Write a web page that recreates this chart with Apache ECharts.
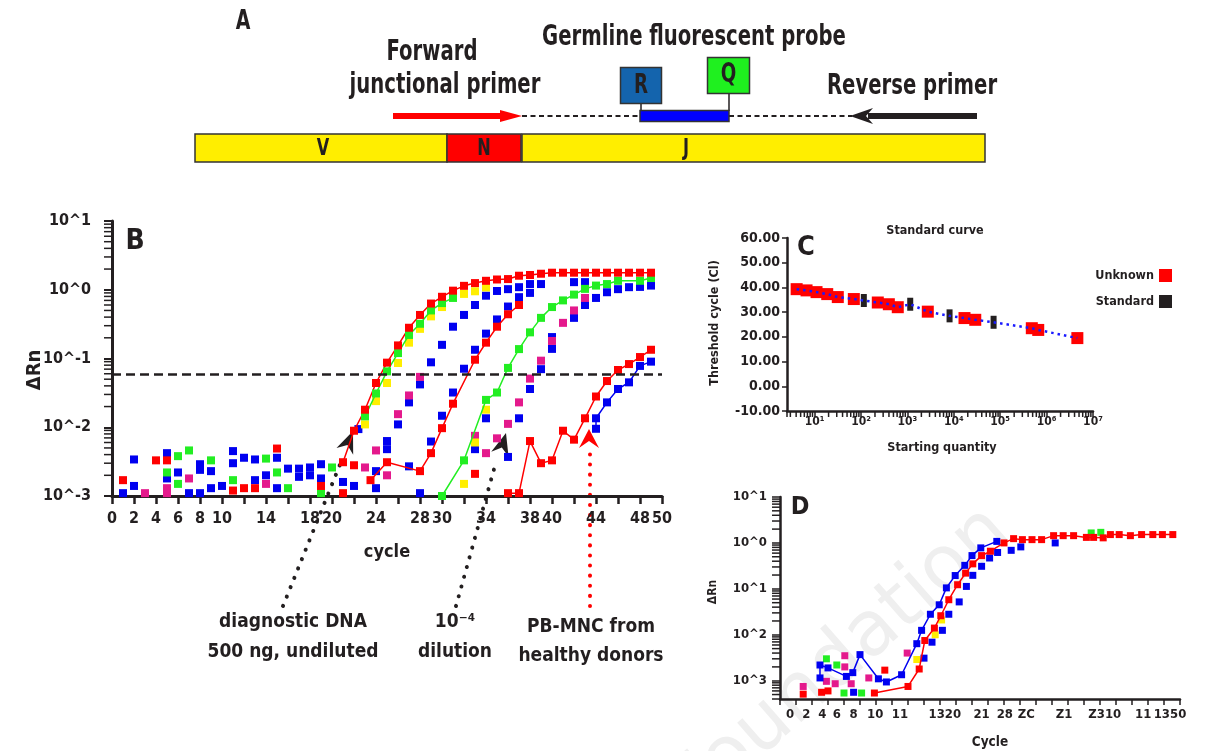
<!DOCTYPE html>
<html>
<head>
<meta charset="utf-8">
<title>Junctional qPCR</title>
<script src="https://cdn.jsdelivr.net/npm/echarts@6/dist/echarts.min.js"></script>
<style>
  html, body { margin: 0; padding: 0; background: #fff; }
  #chart { width: 1208px; height: 751px; }
</style>
</head>
<body>
<div id="chart"></div>
<script>
// ---------- panel B : amplification plot, [cycle, ΔRn] ----------
const bXLabels = [0, 2, 4, 6, 8, 10, 14, 18, 20, 24, 28, 30, 34, 38, 40, 44, 48, 50];
const bThreshold = 0.062;
const bRed1 = [[21,0.0031],[22,0.0089],[23,0.018],[24,0.044],[25,0.087],[26,0.155],[27,0.28],[28,0.43],[29,0.63],[30,0.79],[31,0.97],[32,1.14],[33,1.25],[34,1.35],[35,1.41],[36,1.43],[37,1.6],[38,1.64],[39,1.71],[40,1.77],[41,1.77],[42,1.77],[43,1.77],[44,1.77],[45,1.77],[46,1.77],[47,1.77],[48,1.77],[49,1.77]];
const bGreen1 = [[23,0.0144],[24,0.031],[25,0.065],[26,0.12],[27,0.22],[28,0.32],[29,0.5],[30,0.64],[31,0.76]];
const bRed2 = [[23.5,0.0017],[25,0.0031],[28,0.0023],[29,0.0042],[30,0.0097],[31,0.022],[33,0.096],[34,0.17],[35,0.29],[36,0.44],[37,0.6]];
const bGreen2 = [[30,0.001],[32,0.0033],[34,0.025],[35,0.032],[36,0.073],[37,0.137],[38,0.24],[39,0.39],[40,0.56],[41,0.7],[42,0.85],[43,1.03],[44,1.15],[45,1.21],[46,1.35],[48,1.35],[49,1.48]];
const bRed3 = [[36,0.0011],[37,0.0011],[38,0.0063],[39,0.003],[40,0.0033],[41,0.0089],[42,0.0066],[43,0.0135],[44,0.028],[45,0.047],[46,0.068],[47,0.083],[48,0.105],[49,0.134]];
const bBlue3 = [[44,0.0095],[44,0.0135],[45,0.023],[46,0.036],[47,0.045],[48,0.078],[49,0.09]];
const bYellow = [[23,0.011],[24,0.024],[25,0.044],[26,0.086],[27,0.17],[28,0.27],[29,0.41],[30,0.56],[32,0.87],[33,0.95],[34,1.08],[32,0.0015],[33,0.006],[34,0.018]];
const bBlue = [[1,0.00095],[1,0.0011],[2,0.0014],[2,0.0034],[5,0.0042],[5,0.0018],[6,0.0022],[7,0.0011],[8,0.0029],[8,0.0024],[8,0.0011],[9,0.0023],[9,0.0013],[10,0.0014],[11,0.0045],[11,0.003],[12,0.0036],[13,0.0034],[13,0.0017],[14,0.002],[15,0.0036],[15,0.0013],[16,0.0025],[17,0.0025],[17,0.0019],[18,0.0026],[18,0.002],[19,0.0029],[19,0.0018],[21,0.0016],[22,0.0014],
  [22.4,0.0094],[25,0.0063],[25,0.0048],[24,0.0023],[24,0.0013],[27,0.0027],[28,0.0011],[26,0.011],[27,0.023],[28,0.042],[29,0.088],[30,0.158],[31,0.29],[32,0.43],[33,0.6],[34,0.82],[35,0.96],[36,1.02],[37,1.09],[38,1.21],[39,1.21],
  [29,0.0062],[30,0.0147],[31,0.032],[32,0.071],[33,0.134],[34,0.23],[35,0.37],[36,0.57],[37,0.78],[38,0.9],
  [34,0.0135],[33,0.0048],[36,0.0037],[37,0.0135],[38,0.036],[39,0.07],[40,0.138],[40,0.205],[42,0.39],[43,0.6],[44,0.76],[45,0.92],[46,1.02],[47,1.09],[48,1.1],[49,1.15],[42,1.29],[43,1.29]];
const bMagenta = [[3,0.0011],[5,0.0013],[5,0.0011],[7,0.0018],[14,0.0015],[23,0.0026],[24,0.0046],[25,0.002],[26,0.0155],[27,0.029],[28,0.054],[33,0.0075],[34,0.0042],[35,0.0069],[36,0.0112],[37,0.023],[38,0.051],[39,0.093],[40,0.18],[41,0.33],[42,0.5],[43,0.76]];
const bRedPts = [[1,0.0017],[4,0.0033],[5,0.0033],[11,0.0012],[12,0.0013],[13,0.0013],[15,0.0049],[19,0.0014],[21,0.0011],[22,0.0028],[24,0.00097],[33,0.0021]];
const bGreenPts = [[5,0.0022],[6,0.0038],[6,0.0015],[7,0.0046],[9,0.0033],[11,0.0017],[14,0.0035],[15,0.0022],[16,0.0013],[19,0.0011],[20,0.0026]];

// ---------- panel C : standard curve, [starting quantity, Ct] ----------
const cUnknown = [[4.1,39.3],[6.7,38.8],[11,38.1],[18.7,37.3],[31.6,36.1],[70,35.3],[230,33.9],[398,33.2],[620,32.0],[2750,30.2],[17000,27.6],[29000,26.9],[480000,23.5],[660000,22.8],[4600000,19.5]];
const cStandard = [[115,34.7],[1150,33.2],[8100,28.5],[72000,25.9]];

// ---------- panel D : amplification plot, [cycle, ΔRn] ----------
const dTickAt = [1.25, 3.3, 5.3, 7.1, 9.2, 11.9, 15, 20.6, 25.2, 28.1, 30.8, 35.5, 40.6, 45.4, 48.75];
const dTickText = ['0', '2', '4', '6', '8', '10', '11', '1320', '21', '28', 'ZC', 'Z1', 'Z310', '11', '1350'];
const dRed = [[11.8,0.00054],[16,0.00075],[17.4,0.0018],[18.1,0.0075],[19.3,0.014],[20.1,0.026],[21.1,0.058],[22.2,0.123],[23.2,0.22],[24.1,0.35],[25.2,0.53],[26.3,0.66],[28,1.0],[29.2,1.24],[30.3,1.18],[31.5,1.18],[32.7,1.18],[34.2,1.44],[35.4,1.44],[36.7,1.44],[38.3,1.32],[39.2,1.32],[40.4,1.29],[41.3,1.52],[42.4,1.52],[43.8,1.44],[45.2,1.52],[46.6,1.52],[47.8,1.52],[49.1,1.52]];
const dBlueLine = [[5,0.00115],[5,0.0022],[6,0.0019],[8.3,0.00124],[9.1,0.0015],[10,0.0037],[12.3,0.0011],[13.3,0.00094],[15.2,0.00135],[17.1,0.0064],[17.7,0.0125],[18.8,0.028],[19.9,0.045],[20.8,0.105],[21.9,0.195],[23.1,0.325],[24,0.53],[25.1,0.78],[27.1,1.08]];
const dBluePts = [[9.2,0.00056],[18,0.0031],[19,0.0069],[20.3,0.0125],[21.1,0.028],[22.4,0.052],[23.3,0.113],[24.1,0.197],[25.2,0.31],[26.2,0.47],[27.2,0.62],[28.9,0.69],[30.1,0.82],[34.4,1.0]];
const dMagenta = [[2.9,0.00075],[5.8,0.00097],[6.9,0.00086],[8.1,0.0035],[8.1,0.002],[8.9,0.00086],[11.1,0.00115],[15.9,0.004]];
const dGreen = [[5.8,0.003],[7.1,0.0022],[8,0.00054],[10.2,0.00054],[38.9,1.65],[40.1,1.7]];
const dYellow = [[17.1,0.0029],[19.4,0.01],[20.2,0.021]];
const dRedPts = [[2.9,0.00051],[5.2,0.00056],[6,0.0006],[13.1,0.0017]];

// ---------- styling ----------
const INK = '#231f20';
const RED = '#ff0000', BLUE = '#0000f0', GREEN = '#22ee22', YELLOW = '#ffee00', MAG = '#e4198c';
const FC = "'DejaVu Sans Condensed', 'DejaVu Sans', sans-serif";
const SUP = ['\u2070', '\u00b9', '\u00b2', '\u00b3', '\u2074', '\u2075', '\u2076', '\u2077'];
const NARROW = { scaleX: 0.78 };   // no narrow font installed: squeeze the condensed one

const cXMin = 2.54, dYMin = 0.0004;

function pow10(v) {
  const l = Math.log10(v);
  return Math.abs(l - Math.round(l)) < 1e-6 ? Math.round(l) : null;
}
// 2..9 minor tick positions of a log axis
function logMinor(lo, hi) {
  const out = [];
  for (let e = lo; e < hi; e++) for (let k = 2; k <= 9; k++) out.push(k * Math.pow(10, e));
  return out;
}

function pts(name, data, color, size, gi) {
  return { name, type: 'scatter', xAxisIndex: gi, yAxisIndex: gi, data, symbol: 'rect',
    symbolSize: size, itemStyle: { color, opacity: 1 }, silent: true };
}
function curve(name, data, color, size, gi) {
  return { name, type: 'line', xAxisIndex: gi, yAxisIndex: gi, data, symbol: 'rect',
    symbolSize: size, showSymbol: true, itemStyle: { color, opacity: 1 },
    lineStyle: { color, width: 1.5 }, silent: true };
}
function tickSeries(gi, data, dir, len) {
  return {
    type: 'custom', xAxisIndex: gi, yAxisIndex: gi, data, silent: true, z: 1,
    renderItem(params, api) {
      const p = api.coord([api.value(0), api.value(1)]);
      return { type: 'line',
        shape: { x1: p[0], y1: p[1], x2: dir === 'left' ? p[0] - len : p[0], y2: dir === 'down' ? p[1] + len : p[1] },
        style: { stroke: INK, lineWidth: 1.5 } };
    }
  };
}

const axLine = w => ({ show: true, onZero: false, lineStyle: { color: INK, width: w } });
const axTick = (len, w) => ({ show: true, length: len, lineStyle: { color: INK, width: w } });
const lab = (size, margin, formatter) => ({ show: true, color: INK, fontFamily: FC, fontWeight: 'bold', fontSize: size, margin, formatter });

// ---------- drawing helpers for the schematic / annotations ----------
function txt(x, y, text, size, extra) {
  return Object.assign({ type: 'text', x, y, silent: true,
    style: { text, font: 'bold ' + size + 'px ' + FC, fill: INK, align: 'center', verticalAlign: 'middle' } }, extra || {});
}
function rect(x, y, w, h, fill) {
  return { type: 'rect', silent: true, shape: { x, y, width: w, height: h }, style: { fill, stroke: '#333', lineWidth: 1.5 } };
}
function seg(x1, y1, x2, y2, stroke, width, dash) {
  return { type: 'line', silent: true, shape: { x1, y1, x2, y2 },
    style: { stroke, lineWidth: width, lineDash: dash || null, lineCap: dash && dash[0] < 1 ? 'round' : 'butt' } };
}
function dart(from, tip, len, half, notch, fill) {
  const dx = tip[0] - from[0], dy = tip[1] - from[1], d = Math.hypot(dx, dy);
  const u = [dx / d, dy / d], n = [-u[1], u[0]];
  const b = [tip[0] - u[0] * len, tip[1] - u[1] * len];
  const m = [tip[0] - u[0] * notch, tip[1] - u[1] * notch];
  return { type: 'polygon', silent: true,
    shape: { points: [tip, [b[0] + n[0] * half, b[1] + n[1] * half], m, [b[0] - n[0] * half, b[1] - n[1] * half]] },
    style: { fill } };
}

const graphics = [
  // watermark
  { type: 'text', x: 1025, y: 550, rotation: 0.72, silent: true, z: 0,
    style: { text: 'Foundation', font: '76px DejaVu Sans', fill: '#efefef', align: 'right', verticalAlign: 'bottom' } },
  // panel A
  txt(243, 22, 'A', 27, NARROW),
  txt(432, 53, 'Forward', 28, NARROW),
  txt(445, 86, 'junctional primer', 28, NARROW),
  txt(694, 38, 'Germline fluorescent probe', 28, NARROW),
  txt(912, 87, 'Reverse primer', 28, NARROW),
  rect(195, 134, 252, 28, YELLOW),
  rect(447, 134, 74, 28, RED),
  rect(522, 134, 463, 28, YELLOW),
  txt(323, 149, 'V', 23, NARROW),
  txt(484, 149, 'N', 23, NARROW),
  txt(686, 149, 'J', 23, NARROW),
  seg(522, 116, 640, 116, INK, 2, [5, 3.5]),
  seg(729, 116, 852, 116, INK, 2, [5, 3.5]),
  seg(393, 116, 502, 116, RED, 6),
  { type: 'polygon', silent: true, shape: { points: [[500, 110], [522, 116], [500, 122]] }, style: { fill: RED } },
  seg(868, 116, 977, 116, INK, 6),
  { type: 'polygon', silent: true, shape: { points: [[850, 116], [873, 108], [866, 116], [873, 124]] }, style: { fill: INK } },
  seg(641, 103, 641, 111, INK, 1.5),
  seg(729, 93, 729, 111, INK, 1.5),
  rect(640, 110.5, 89, 11, '#0000ff'),
  rect(620.5, 67.5, 41, 36, '#1464ad'),
  rect(707.5, 57.5, 42, 36, '#1ff01f'),
  txt(641, 86, 'R', 26, NARROW),
  txt(728.5, 75, 'Q', 26, NARROW),
  // panel B texts
  txt(135, 242, 'B', 28),
  txt(35, 370, '\u0394Rn', 20, { rotation: Math.PI / 2 }),
  txt(387, 552, 'cycle', 18),
  seg(283, 606, 341, 462, INK, 4, [0.1, 10]),
  dart([283, 606], [353, 431], 22, 9, 15, INK),
  seg(456, 606, 496, 462, INK, 4, [0.1, 10]),
  dart([456, 606], [506, 433], 22, 9, 15, INK),
  seg(590, 606, 590, 450, RED, 4, [0.1, 10]),
  dart([589, 606], [589, 429], 19, 10, 12, RED),
  txt(293, 622, 'diagnostic DNA', 19),
  txt(293, 652, '500 ng, undiluted', 19),
  txt(455, 622, '10\u207b\u2074', 19),
  txt(455, 652, 'dilution', 19),
  txt(591, 627, 'PB-MNC from', 19),
  txt(591, 656, 'healthy donors', 19),
  // panel C texts
  txt(806, 248, 'C', 27),
  txt(935, 231, 'Standard curve', 12.5),
  txt(715, 323, 'Threshold cycle (Cl)', 12.5, { rotation: Math.PI / 2 }),
  txt(942, 448, 'Starting quantity', 12.5),
  // panel D texts
  txt(800, 507, 'D', 25),
  txt(713, 592, '\u0394Rn', 12, { rotation: Math.PI / 2 }),
  txt(990, 742, 'Cycle', 13.5)
];

const cAll = cUnknown.concat(cStandard).sort((a, b) => a[0] - b[0]);

const option = {
  animation: false,
  textStyle: { fontFamily: FC, fontWeight: 'bold', color: INK },
  legend: {
    data: [{ name: 'Unknown', itemStyle: { color: RED } }, { name: 'Standard', itemStyle: { color: INK } }],
    orient: 'vertical', right: 31, top: 264, align: 'right', icon: 'rect',
    itemWidth: 13, itemHeight: 13, itemGap: 13, selectedMode: false,
    textStyle: { color: INK, fontFamily: FC, fontWeight: 'bold', fontSize: 12.5 }
  },
  grid: [
    { left: 112, top: 221, width: 550, height: 275, outerBoundsMode: 'none' },
    { left: 787, top: 238, width: 306, height: 173, outerBoundsMode: 'none' },
    { left: 780, top: 497, width: 400, height: 202, outerBoundsMode: 'none' }
  ],
  xAxis: [
    { gridIndex: 0, type: 'value', min: 0, max: 50, interval: 2, axisLine: axLine(3), axisTick: axTick(8, 2.5),
      splitLine: { show: false }, axisLabel: lab(16, 15, v => bXLabels.includes(v) ? String(v) : '') },
    { gridIndex: 1, type: 'log', logBase: 10, min: cXMin, max: 1e7, axisLine: axLine(2.5), axisTick: axTick(6, 1.5),
      splitLine: { show: false }, axisLabel: lab(12, 5, v => { const e = pow10(v); return e === null ? '' : '10' + SUP[e]; }) },
    { gridIndex: 2, type: 'value', min: 0, max: 50, interval: 2, axisLine: axLine(2.5), axisTick: axTick(6, 1.5),
      splitLine: { show: false },
      axisLabel: Object.assign(lab(13, 9, v => { const i = dTickAt.findIndex(t => Math.abs(t - v) < 1e-6); return i < 0 ? '' : dTickText[i]; }),
        { customValues: dTickAt }) }
  ],
  yAxis: [
    { gridIndex: 0, type: 'log', logBase: 10, min: 0.001, max: 10, axisLine: axLine(3), axisTick: axTick(8, 2),
      splitLine: { show: false }, axisLabel: lab(16, 21, v => { const e = pow10(v); return e === null ? '' : '10^' + e; }) },
    { gridIndex: 1, type: 'value', min: -10, max: 60, interval: 10, axisLine: axLine(2.5), axisTick: axTick(5, 1.5),
      splitLine: { show: false }, axisLabel: lab(14, 7, v => v.toFixed(2)) },
    { gridIndex: 2, type: 'log', logBase: 10, min: dYMin, max: 10, axisLine: axLine(2.5), axisTick: axTick(8, 1.5),
      splitLine: { show: false }, axisLabel: lab(13, 13, v => { const e = pow10(v); return e === null ? '' : '10^' + Math.abs(e); }) }
  ],
  graphic: graphics,
  series: [
    // minor ticks
    tickSeries(0, logMinor(-3, 1).map(v => [0, v]), 'left', 8),
    tickSeries(1, logMinor(0, 7).filter(v => v > cXMin).map(v => [v, -10]), 'down', 6),
    tickSeries(2, logMinor(-4, 1).filter(v => v > dYMin).map(v => [0, v]), 'left', 8),
    // B
    pts('bBlue', bBlue, BLUE, 8, 0),
    pts('bMagenta', bMagenta, MAG, 8, 0),
    pts('bYellow', bYellow, YELLOW, 8, 0),
    pts('bGreenPts', bGreenPts, GREEN, 8, 0),
    pts('bRedPts', bRedPts, RED, 8, 0),
    curve('bGreen1', bGreen1, GREEN, 8, 0),
    curve('bGreen2', bGreen2, GREEN, 8, 0),
    curve('bBlue3', bBlue3, BLUE, 8, 0),
    curve('bRed2', bRed2, RED, 8, 0),
    curve('bRed3', bRed3, RED, 8, 0),
    Object.assign(curve('bRed1', bRed1, RED, 8, 0), {
      markLine: { silent: true, symbol: 'none', label: { show: false },
        lineStyle: { color: INK, type: [9, 5], width: 2.5 }, data: [{ yAxis: bThreshold }] }
    }),
    // C
    { name: 'fit', type: 'line', xAxisIndex: 1, yAxisIndex: 1, data: cAll, symbol: 'none', silent: true,
      lineStyle: { color: '#1a1aff', width: 2.5, type: [2.5, 4] } },
    pts('Unknown', cUnknown, RED, 12, 1),
    pts('Standard', cStandard, INK, [6, 13], 1),
    // D
    pts('dMagenta', dMagenta, MAG, 7, 2),
    pts('dGreen', dGreen, GREEN, 7, 2),
    pts('dYellow', dYellow, YELLOW, 7, 2),
    pts('dBluePts', dBluePts, BLUE, 7, 2),
    pts('dRedPts', dRedPts, RED, 7, 2),
    curve('dBlueLine', dBlueLine, BLUE, 7, 2),
    curve('dRed', dRed, RED, 7, 2)
  ]
};

const chart = echarts.init(document.getElementById('chart'));
chart.setOption(option);
</script>
</body>
</html>
